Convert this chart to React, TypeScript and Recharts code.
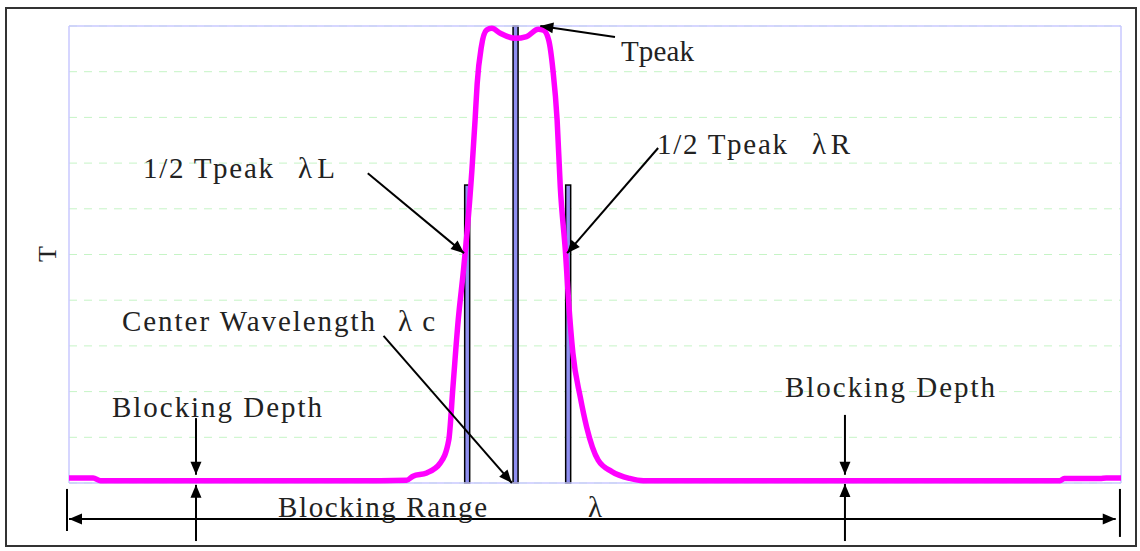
import React from 'react';
import {
  ComposedChart,
  Line,
  Bar,
  XAxis,
  YAxis,
  CartesianGrid,
  ReferenceLine,
} from 'recharts';

// transmission curve (wavelength in % of range, T in %)
const wavelengths = [
  0, 2.3, 3.0, 29.6, 32.1, 32.7, 34.0, 35.3, 36.1, 36.5, 37.0, 37.5, 37.8, 38.3, 38.6, 38.8,
  39.2, 39.7, 40.2, 41.0, 42.4, 43.5, 44.6, 45.1, 45.6, 46.0, 46.4, 46.7, 47.2, 47.5, 47.9,
  48.6, 49.2, 50.3, 51.6, 53.3, 54.6, 94.2, 94.6, 98.0, 98.6, 100,
];
const transmission = [
  1.1, 1.1, 0.5, 0.5, 0.6, 1.5, 2.2, 4.4, 9.4, 21.1, 35.7, 46.6, 53.9, 68.5, 79.4, 87.4,
  95.5, 99.1, 99.5, 98.4, 97.3, 97.7, 99.3, 99.1, 96.9, 90.4, 79.4, 64.8, 50.3, 39.4, 28.4,
  18.8, 12.3, 5.0, 2.5, 1.0, 0.5, 0.5, 1.0, 1.0, 1.1, 1.1,
];

// marker bars: λL, λc, λR
const markerPositions = [37.85, 42.45, 47.45];
const markerHeights = [65.2, 100, 65.2];

const yTicks = [0, 10, 20, 30, 40, 50, 60, 70, 80, 90, 100];

// annotation arrows in data units: [x1, y1, x2, y2], arrow head at (x2, y2)
const arrows = [
  [51.9, 97.6, 44.8, 100],
  [28.4, 67.8, 37.55, 50.3],
  [56.0, 73.3, 47.35, 50.3],
  [29.9, 32.2, 42.1, 0],
  [12.07, 14.2, 12.07, 1.8],
  [12.07, -12.7, 12.07, -0.4],
  [73.76, 14.9, 73.76, 1.8],
  [73.76, -12.7, 73.76, -0.2],
];
const rangeArrow = [0, -7.9, 99.5, -7.9];
const rangeEnds = [
  [-0.19, -1.3, -0.19, -10.5],
  [99.9, -1.3, 99.9, -11.8],
];

const data = [
  ...wavelengths.map((x, i) => ({ x, T: transmission[i] })),
  ...markerPositions.map((x, i) => ({ x, mark: markerHeights[i] })),
].sort((a, b) => a.x - b.x);

const head = (x1: number, y1: number, x2: number, y2: number) => {
  const len = Math.hypot(x2 - x1, y2 - y1) || 1;
  const ux = (x2 - x1) / len;
  const uy = (y2 - y1) / len;
  const L = 13;
  const W = 5.5;
  const bx = x2 - ux * L;
  const by = y2 - uy * L;
  return `${x2},${y2} ${bx - uy * W},${by + ux * W} ${bx + uy * W},${by - ux * W}`;
};

const arrowShape = (both: boolean) => (props: any) => {
  const { x1, y1, x2, y2 } = props;
  return (
    <g>
      <line x1={x1} y1={y1} x2={x2} y2={y2} stroke="#000" strokeWidth={2} />
      <polygon points={head(x1, y1, x2, y2)} fill="#000" />
      {both && <polygon points={head(x2, y2, x1, y1)} fill="#000" />}
    </g>
  );
};

const plainShape = (props: any) => {
  const { x1, y1, x2, y2 } = props;
  return <line x1={x1} y1={y1} x2={x2} y2={y2} stroke="#000" strokeWidth={2} />;
};

// thin bar centred on its wavelength, whatever band width recharts hands over
const MarkerBar = (props: any) => {
  const { x, y, width, height } = props;
  if (!height) return null;
  const cx = x + width / 2;
  return <rect x={cx - 2.5} y={y} width={5} height={height} fill="#8f8ff0" stroke="#000" strokeWidth={1.5} />;
};

const seg = (a: number[]) => [
  { x: a[0], y: a[1] },
  { x: a[2], y: a[3] },
];

const labels = [
  { text: 'Tpeak', x: 621, y: 61, w: 73 },
  { text: '1/2 Tpeak', x: 143, y: 178, w: 130 },
  { text: 'λL', x: 298, y: 178, w: 37 },
  { text: '1/2 Tpeak', x: 657, y: 154, w: 130 },
  { text: 'λR', x: 812, y: 154, w: 38 },
  { text: 'Center Wavelength', x: 122, y: 331, w: 253 },
  { text: 'λc', x: 398, y: 331, w: 37 },
  { text: 'Blocking Depth', x: 112, y: 417, w: 210 },
  { text: 'Blocking Depth', x: 785, y: 397, w: 210 },
  { text: 'Blocking Range', x: 278, y: 517, w: 209 },
  { text: 'λ', x: 588, y: 517, w: 13 },
];

const border = '#c8c8ff';

export default function App() {
  return (
    <div style={{ position: 'absolute', left: 0, top: 0, width: 1140, height: 551, background: '#fff' }}>
      <div
        style={{
          position: 'absolute',
          left: 5,
          top: 7,
          width: 1132,
          height: 540,
          border: '2px solid #333',
          boxSizing: 'border-box',
        }}
      />
      <div style={{ position: 'absolute', left: 0, top: 0 }}>
        <ComposedChart width={1140} height={551} data={data} margin={{ top: 26, right: 19, bottom: 68, left: 69 }}>
          <XAxis dataKey="x" type="number" domain={[0, 100]} hide />
          <YAxis type="number" domain={[0, 100]} ticks={yTicks} hide />
          <CartesianGrid vertical={false} stroke="#c6f4c6" strokeDasharray="8 7" />
          <ReferenceLine y={100} stroke={border} strokeWidth={1.5} />
          <ReferenceLine y={0} stroke={border} strokeWidth={1.5} />
          <ReferenceLine x={0} stroke={border} strokeWidth={1.5} />
          <ReferenceLine x={100} stroke={border} strokeWidth={1.5} />
          <Line
            type="monotone"
            dataKey="T"
            stroke="#ff00ff"
            strokeWidth={5.5}
            dot={false}
            connectNulls
            isAnimationActive={false}
          />
          <Bar dataKey="mark" shape={MarkerBar} isAnimationActive={false} />
          {arrows.map((a, i) => (
            <ReferenceLine key={`a${i}`} segment={seg(a)} ifOverflow="visible" shape={arrowShape(false)} />
          ))}
          <ReferenceLine segment={seg(rangeArrow)} ifOverflow="visible" shape={arrowShape(true)} />
          {rangeEnds.map((a, i) => (
            <ReferenceLine key={`e${i}`} segment={seg(a)} ifOverflow="visible" shape={plainShape} />
          ))}
        </ComposedChart>
      </div>
      <svg
        width={1140}
        height={551}
        style={{ position: 'absolute', left: 0, top: 0, pointerEvents: 'none' }}
        fontFamily="'Liberation Serif', 'DejaVu Serif', serif"
        fontSize={29}
        fill="#222"
      >
        {labels.map((l, i) => (
          <text key={i} x={l.x} y={l.y} textLength={l.w} lengthAdjust="spacing">
            {l.text}
          </text>
        ))}
        <text x={47} y={254} fontSize={26} textAnchor="middle" dominantBaseline="central" transform="rotate(-90 47 254)">
          T
        </text>
      </svg>
    </div>
  );
}
